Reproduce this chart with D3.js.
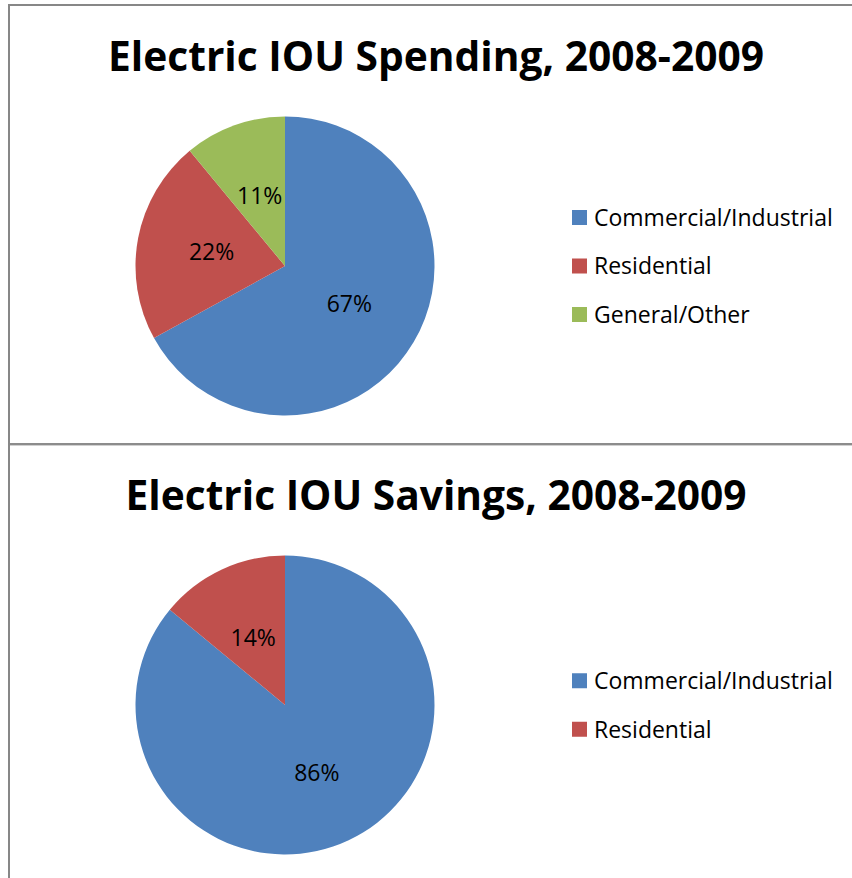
<!DOCTYPE html>
<html>
<head>
<meta charset="utf-8">
<script src="https://cdn.jsdelivr.net/npm/d3@7"></script>
<style>
  body { margin: 0; background: #fff; }
  text { font-family: "Open Sans", "Noto Sans", sans-serif; }
</style>
</head>
<body>
<div id="chart"></div>
<script>
(function() {
var WIDTH = 852;
var HEIGHT = 878;

// data
var spendingTitle = 'Electric IOU Spending, 2008-2009';
var spendingCategories = ['Commercial/Industrial', 'Residential', 'General/Other'];
var spendingValues = [67, 22, 11];

var savingsTitle = 'Electric IOU Savings, 2008-2009';
var savingsCategories = ['Commercial/Industrial', 'Residential'];
var savingsValues = [86, 14];

var COLORS = ['#4F81BD', '#C0504D', '#9BBB59'];

var svg = d3.select('#chart').append('svg')
  .attr('width', WIDTH)
  .attr('height', HEIGHT);

// frame lines
svg.append('rect').attr('x', 8).attr('y', 4).attr('width', WIDTH).attr('height', 2).attr('fill', '#878787');
svg.append('rect').attr('x', 8).attr('y', 4).attr('width', 2).attr('height', HEIGHT).attr('fill', '#878787');
svg.append('rect').attr('x', 10).attr('y', 443).attr('width', WIDTH).attr('height', 2).attr('fill', '#8c8c8c');
svg.append('rect').attr('x', 10).attr('y', 445).attr('width', WIDTH).attr('height', 1).attr('fill', '#d0d0d0');

function drawPanel(top, title, titleWidth, categories, values) {
  var g = svg.append('g').attr('transform', 'translate(0,' + top + ')');
  var cx = 285, cy = 262, r = 149.5;

  g.append('text')
    .attr('x', 436)
    .attr('y', 67)
    .attr('text-anchor', 'middle')
    .attr('font-size', 41)
    .attr('font-weight', 'bold')
    .attr('textLength', titleWidth)
    .attr('lengthAdjust', 'spacingAndGlyphs')
    .text(title);

  var pie = d3.pie().sort(null).value(function(d) { return d; });
  var arc = d3.arc().innerRadius(0).outerRadius(r);
  var arcs = pie(values);

  var pg = g.append('g').attr('transform', 'translate(' + cx + ',' + cy + ')');
  pg.selectAll('path')
    .data(arcs)
    .enter().append('path')
    .attr('d', arc)
    .attr('fill', function(d, i) { return COLORS[i]; });

  pg.selectAll('text')
    .data(arcs)
    .enter().append('text')
    .attr('transform', function(d) { return 'translate(' + arc.centroid(d) + ')'; })
    .attr('text-anchor', 'middle')
    .attr('dy', '0.36em')
    .attr('font-size', 23)
    .attr('fill', '#000')
    .text(function(d) { return d.value + '%'; });

  // legend
  var step = 48.5;
  var y0 = cy - step * (categories.length - 1) / 2;
  var y = d3.scalePoint().domain(categories).range([y0, y0 + step * (categories.length - 1)]);
  var lg = g.append('g');
  var item = lg.selectAll('g')
    .data(categories)
    .enter().append('g')
    .attr('transform', function(d) { return 'translate(572,' + y(d) + ')'; });
  item.append('rect')
    .attr('x', 0).attr('y', -7.5)
    .attr('width', 15).attr('height', 15)
    .attr('fill', function(d, i) { return COLORS[i]; });
  item.append('text')
    .attr('x', 22)
    .attr('dy', '0.36em')
    .attr('font-size', 23)
    .attr('fill', '#000')
    .text(function(d) { return d; });
}

drawPanel(4, spendingTitle, 656, spendingCategories, spendingValues);
drawPanel(443, savingsTitle, 621, savingsCategories, savingsValues);
})();
</script>
</body>
</html>
